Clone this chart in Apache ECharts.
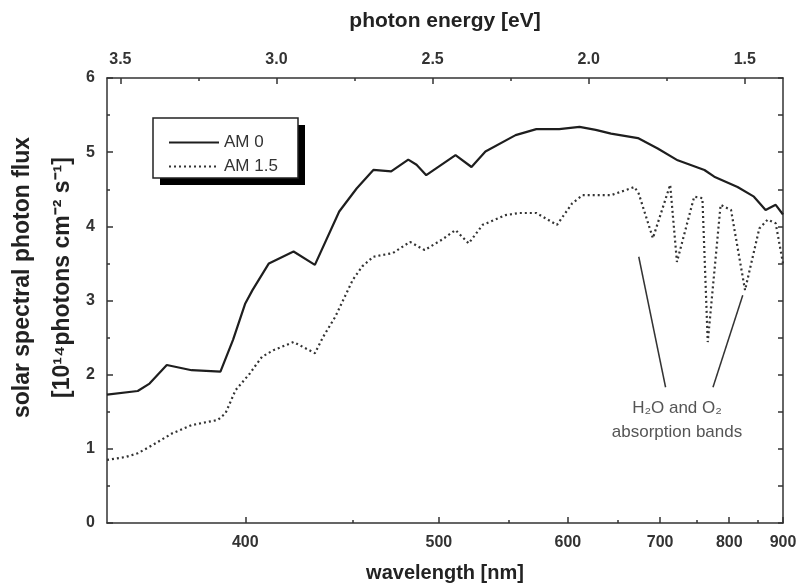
<!DOCTYPE html>
<html>
<head>
<meta charset="utf-8">
<script src="https://cdn.jsdelivr.net/npm/echarts@6/dist/echarts.min.js"></script>
<style>
    html, body { margin: 0; padding: 0; background: #fff; }
    #solarChart { width: 798px; height: 583px; }
</style>
</head>
<body>
<div id="solarChart"></div>
<script>
// wavelength range shown on the axis (nm)
var wlMin = 350;
var wlMax = 900;

// AM 0 spectrum (wavelength nm / photon flux 10^14 cm^-2 s^-1)
var am0Wl = [350, 360, 364, 370, 379, 390, 395, 400, 403, 410, 421, 431, 443, 452, 461, 471, 481, 486, 492, 511,
             522, 532, 555, 572, 592, 611, 627, 643, 673, 697, 723, 761, 776, 814, 843, 865, 885, 900];
var am0Flux = [1.73, 1.78, 1.88, 2.13, 2.06, 2.04, 2.47, 2.96, 3.14, 3.50, 3.66, 3.48, 4.20, 4.51, 4.76, 4.74, 4.90, 4.83, 4.69, 4.96,
               4.80, 5.01, 5.23, 5.31, 5.31, 5.34, 5.30, 5.25, 5.19, 5.05, 4.89, 4.76, 4.67, 4.53, 4.40, 4.22, 4.29, 4.16];

// AM 1.5 spectrum
var am15Wl = [350, 356, 360, 365, 372, 379, 389, 392, 396, 402, 404, 407, 412, 421, 431, 435, 441, 450, 455, 461,
              472, 482, 491, 502, 511, 520, 530, 547, 558, 572, 590, 604, 614, 627, 643, 669, 674, 691, 713, 722,
              746, 758, 766, 786, 803, 827, 853, 869, 885, 900];
var am15Flux = [0.85, 0.89, 0.94, 1.05, 1.21, 1.32, 1.39, 1.48, 1.79, 2.02, 2.11, 2.24, 2.33, 2.44, 2.29, 2.51, 2.78, 3.28, 3.46, 3.59,
                3.64, 3.79, 3.68, 3.82, 3.95, 3.77, 4.02, 4.15, 4.18, 4.18, 4.02, 4.31, 4.42, 4.42, 4.42, 4.53, 4.44, 3.84, 4.56, 3.52,
                4.40, 4.38, 2.44, 4.29, 4.22, 3.14, 3.97, 4.09, 4.04, 3.50];

// tick labels
var wlMajor = [400, 500, 600, 700, 800, 900];
var wlMinor = [450, 550, 650, 750, 850];
var eMajor = [1.5, 2.0, 2.5, 3.0, 3.5];
var eMinor = [1.75, 2.25, 2.75, 3.25];

// leader lines of the annotation (wavelength nm, flux)
var leaderStart = [[674, 3.59], [823, 3.07]];
var leaderEnd = [[707, 1.83], [774, 1.83]];

var legendNames = ['AM 0', 'AM 1.5'];

function toEnergy(wl) {
    return 1240 / wl;
}

function toPoints(wl, flux) {
    var arr = [];
    for (var i = 0; i < wl.length; i++) {
        arr.push([toEnergy(wl[i]), flux[i]]);
    }
    return arr;
}

var FONT = '"Liberation Sans", Arial, sans-serif';
var AXIS_COLOR = '#333';

var chart = echarts.init(document.getElementById('solarChart'), null, { renderer: 'canvas' });

function xAxisBase(pos) {
    return {
        type: 'value',
        position: pos,
        min: toEnergy(wlMax),
        max: toEnergy(wlMin),
        inverse: true,
        splitLine: { show: false },
        axisLine: { show: true, onZero: false, lineStyle: { color: AXIS_COLOR, width: 1.5 } }
    };
}

// 하단 파장 축
var xBottom = xAxisBase('bottom');
xBottom.axisTick = { show: true, inside: true, length: 6, customValues: wlMajor.map(toEnergy), lineStyle: { color: AXIS_COLOR, width: 1.5 } };
xBottom.axisLabel = {
    customValues: wlMajor.map(toEnergy),
    margin: 12,
    color: '#333', fontFamily: FONT, fontWeight: 'bold', fontSize: 16,
    formatter: function(v) { return Math.round(1240 / v); }
};
xBottom.name = 'wavelength [nm]';
xBottom.nameLocation = 'middle';
xBottom.nameGap = 40;
xBottom.nameMoveOverlap = false;
xBottom.nameTextStyle = { color: '#222', fontFamily: FONT, fontWeight: 'bold', fontSize: 20 };

var xBottomMinor = xAxisBase('bottom');
xBottomMinor.axisLine.show = false;
xBottomMinor.axisTick = { show: true, inside: true, length: 3, customValues: wlMinor.map(toEnergy), lineStyle: { color: AXIS_COLOR, width: 1.5 } };
xBottomMinor.axisLabel = { show: false };

// 상단 에너지 축
var xTop = xAxisBase('top');
xTop.axisTick = { show: true, inside: true, length: 6, customValues: eMajor, lineStyle: { color: AXIS_COLOR, width: 1.5 } };
xTop.axisLabel = {
    customValues: eMajor,
    margin: 10,
    color: '#333', fontFamily: FONT, fontWeight: 'bold', fontSize: 16,
    formatter: function(v) { return v.toFixed(1); }
};
xTop.name = 'photon energy [eV]';
xTop.nameLocation = 'middle';
xTop.nameGap = 46;
xTop.nameMoveOverlap = false;
xTop.nameTextStyle = { color: '#222', fontFamily: FONT, fontWeight: 'bold', fontSize: 21 };

var xTopMinor = xAxisBase('top');
xTopMinor.axisLine.show = false;
xTopMinor.axisTick = { show: true, inside: true, length: 3, customValues: eMinor, lineStyle: { color: AXIS_COLOR, width: 1.5 } };
xTopMinor.axisLabel = { show: false };

var option = {
    backgroundColor: '#fff',
    animation: false,
    grid: { left: 107, right: 15, top: 78, bottom: 60, containLabel: false, outerBoundsMode: 'none' },
    legend: {
        data: legendNames,
        orient: 'vertical',
        left: 153,
        top: 118,
        padding: [16, 24, 8, 15],
        itemGap: 7,
        itemWidth: 50,
        itemHeight: 14,
        z: 10,
        itemStyle: { opacity: 0 },
        textStyle: { color: '#333', fontFamily: FONT, fontSize: 17 }
    },
    xAxis: [xBottom, xBottomMinor, xTop, xTopMinor],
    yAxis: [
        {
            type: 'value',
            position: 'left',
            min: 0,
            max: 6,
            interval: 1,
            splitLine: { show: false },
            axisLine: { show: true, onZero: false, lineStyle: { color: AXIS_COLOR, width: 1.5 } },
            axisTick: { show: true, inside: true, length: 6, lineStyle: { color: AXIS_COLOR, width: 1.5 } },
            minorTick: { show: true, splitNumber: 2, length: 3, lineStyle: { color: AXIS_COLOR, width: 1.5 } },
            axisLabel: { margin: 12, color: '#333', fontFamily: FONT, fontWeight: 'bold', fontSize: 16 },
            name: 'solar spectral photon flux\n[10¹⁴photons cm⁻² s⁻¹]',
            nameLocation: 'middle',
            nameRotate: 90,
            nameGap: 24,
            nameMoveOverlap: false,
            nameTextStyle: { color: '#222', fontFamily: FONT, fontWeight: 'bold', fontSize: 23, lineHeight: 40, padding: [0, 0, 0, 46] }
        },
        {
            type: 'value',
            position: 'right',
            min: 0,
            max: 6,
            interval: 0.5,
            splitLine: { show: false },
            axisLine: { show: true, onZero: false, lineStyle: { color: AXIS_COLOR, width: 1.5 } },
            axisTick: { show: true, inside: true, length: 5, lineStyle: { color: AXIS_COLOR, width: 1.5 } },
            axisLabel: { show: false }
        }
    ],
    graphic: [
        {
            // 범례 그림자
            type: 'rect', z: 5,
            shape: { x: 160, y: 125, width: 145, height: 60 },
            style: { fill: '#000' }
        },
        {
            // 범례 상자
            type: 'rect', z: 6,
            shape: { x: 153, y: 118, width: 145, height: 60 },
            style: { fill: '#fff', stroke: '#222', lineWidth: 1.5 }
        },
        {
            type: 'text', x: 677, y: 408,
            style: { text: 'H₂O and O₂', align: 'center', verticalAlign: 'middle', font: '17px ' + FONT, fill: '#555' }
        },
        {
            type: 'text', x: 677, y: 432,
            style: { text: 'absorption bands', align: 'center', verticalAlign: 'middle', font: '17px ' + FONT, fill: '#555' }
        }
    ],
    series: [
        {
            name: legendNames[0],
            type: 'line',
            xAxisIndex: 0,
            yAxisIndex: 0,
            data: toPoints(am0Wl, am0Flux),
            symbol: 'none',
            showSymbol: false,
            lineStyle: { color: '#1e1e1e', width: 2.2 },
            itemStyle: { color: '#1e1e1e' }
        },
        {
            name: legendNames[1],
            type: 'line',
            xAxisIndex: 0,
            yAxisIndex: 0,
            data: toPoints(am15Wl, am15Flux),
            symbol: 'none',
            showSymbol: false,
            lineStyle: { color: '#333', width: 2.2, type: [2, 3] },
            itemStyle: { color: '#333' },
            markLine: {
                silent: true,
                symbol: 'none',
                label: { show: false },
                lineStyle: { color: '#333', width: 1.5, type: 'solid' },
                data: leaderStart.map(function(p, i) {
                    return [
                        { coord: [toEnergy(p[0]), p[1]] },
                        { coord: [toEnergy(leaderEnd[i][0]), leaderEnd[i][1]] }
                    ];
                })
            }
        }
    ]
};

chart.setOption(option);
</script>
</body>
</html>
